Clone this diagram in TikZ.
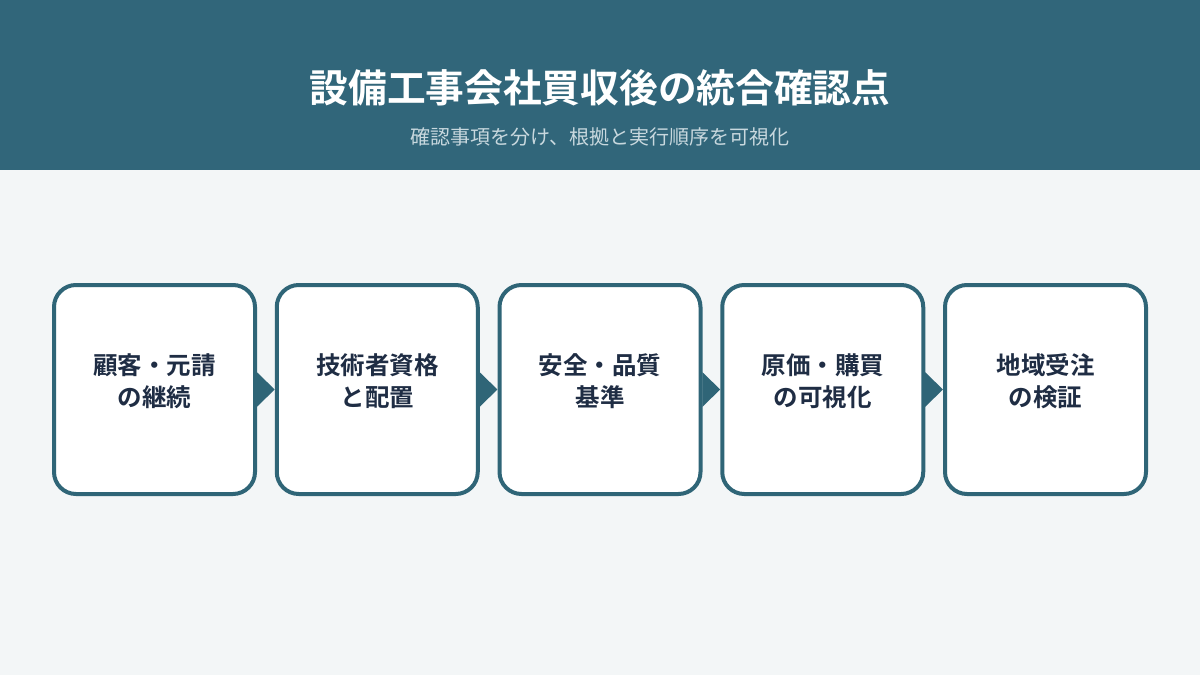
\documentclass[tikz,border=0pt]{standalone}
\usepackage{fontspec}
\setmainfont{Noto Sans CJK JP}
\newfontfamily\cjkb{Noto Sans CJK JP Bold}
\newfontfamily\cjkr{Noto Sans CJK JP}
\usetikzlibrary{arrows.meta}
\definecolor{hdr}{HTML}{31667A}
\definecolor{bg}{HTML}{F3F6F7}
\definecolor{edge}{HTML}{2F6577}
\definecolor{ink}{HTML}{1F2D44}
\definecolor{sub}{HTML}{C8D8DE}
\begin{document}
\begin{tikzpicture}[x=1pt,y=-1pt,
  stepbox/.style={draw=edge,line width=4pt,fill=white,rounded corners=22pt,minimum width=201pt,minimum height=209pt,inner sep=0pt},
  lbl/.style={text=ink,font=\cjkb\fontsize{24.5}{31.5}\selectfont,align=center},
  conn/.style={draw=edge,line width=4pt,-{Triangle[length=18pt,width=34pt]}}]
\useasboundingbox (0,0) rectangle (1200,675);
\fill[bg] (0,0) rectangle (1200,675);
\fill[hdr] (0,0) rectangle (1200,170);
\node[text=white,font=\cjkb\fontsize{38.7}{46}\selectfont] (title) at (600,88) {設備工事会社買収後の統合確認点};
\node[text=sub,font=\cjkr\fontsize{20}{24}\selectfont] (subtitle) at (600,137) {確認事項を分け、根拠と実行順序を可視化};
\foreach \i/\t [count=\k] in {0/{顧客・元請\\の継続},1/{技術者資格\\と配置},2/{安全・品質\\基準},3/{原価・購買\\の可視化},4/{地域受注\\の検証}}{
  \node[stepbox] (b\k) at ({154.5+222.75*\i},389.5) {};
  \node[lbl] (t\k) at ({154.5+222.75*\i},381) {\t};
}
\foreach \a/\b in {1/2,2/3,3/4,4/5}{
  \draw[conn] (b\a.east) -- (b\b.west);
}
\end{tikzpicture}
\end{document}
